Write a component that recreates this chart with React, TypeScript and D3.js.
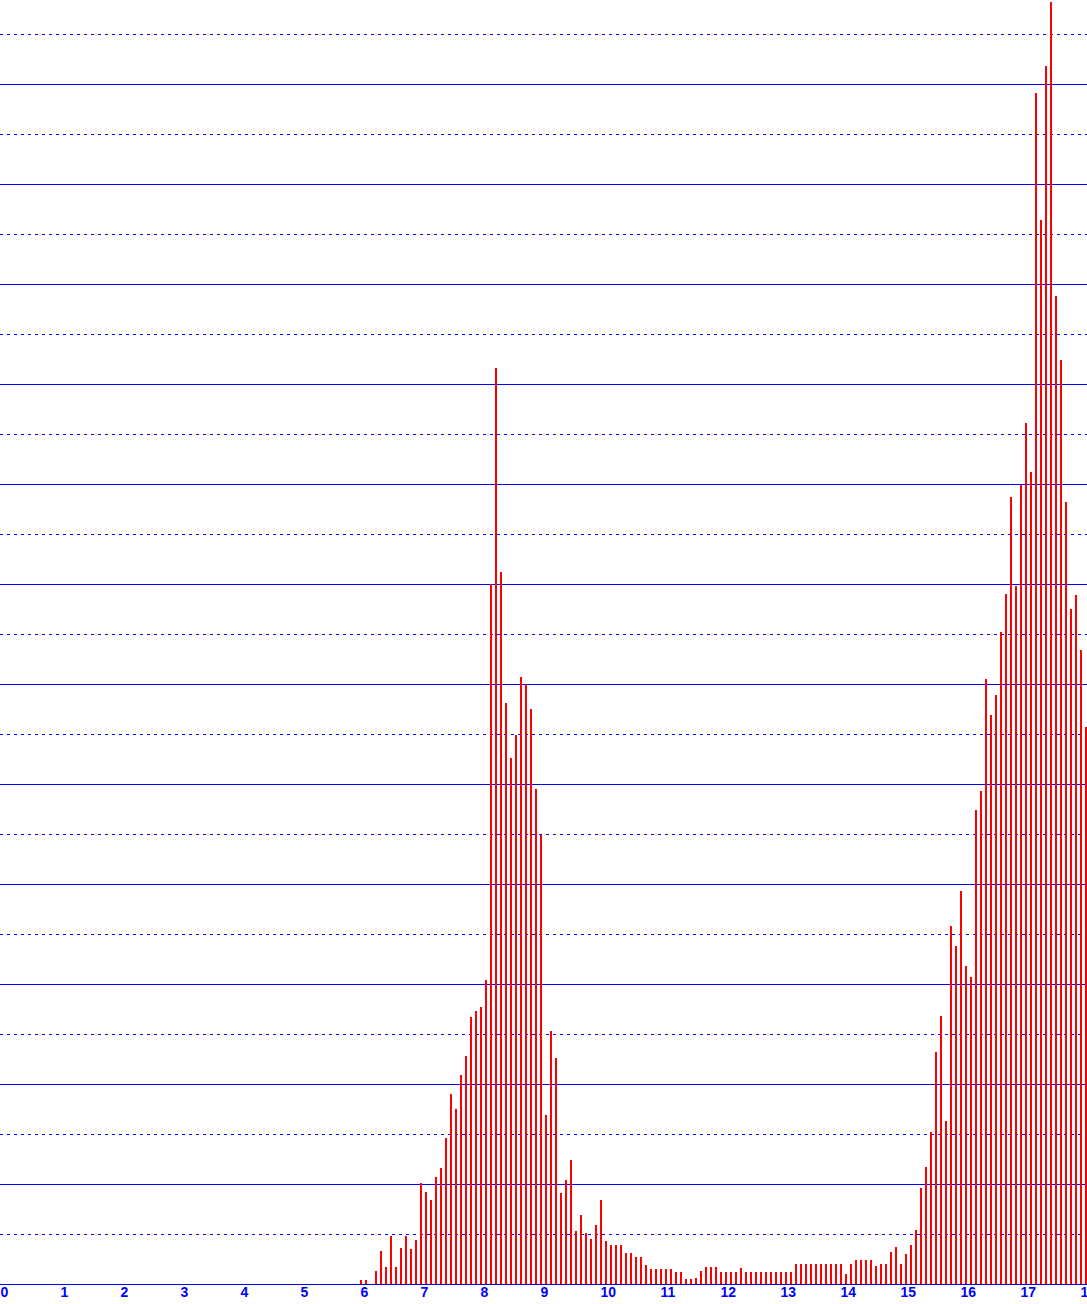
import React, { useEffect, useRef } from 'react';
import * as d3 from 'd3';

// hour axis labels
const hourTicks: number[] = d3.range(0, 19);

// first bar sits at 6:00, one bar every 5 minutes
const startHour = 6;
const barsPerHour = 12;

// bar heights
const counts: number[] = [
    4, 4, 0, 13, 33, 17, 48, 17, 36, 48, 35, 44,
    101, 92, 84, 107, 116, 146, 190, 175, 209, 228, 267, 273,
    277, 304, 700, 916, 712, 581, 526, 549, 607, 600, 575, 495,
    449, 169, 253, 226, 91, 104, 124, 53, 69, 51, 45, 59,
    84, 43, 39, 39, 39, 31, 31, 27, 27, 19, 15, 15,
    15, 15, 15, 12, 12, 5, 5, 6, 13, 17, 17, 17,
    12, 12, 12, 12, 16, 12, 12, 12, 12, 12, 12, 12,
    12, 12, 12, 20, 20, 20, 20, 20, 20, 20, 20, 20,
    20, 10, 20, 24, 24, 24, 24, 18, 20, 20, 32, 37,
    20, 30, 39, 54, 96, 117, 152, 232, 268, 163, 358, 338,
    393, 318, 307, 474, 493, 605, 569, 589, 652, 690, 787, 698,
    799, 861, 812, 1191, 1064, 1218, 1282, 988, 924, 782, 675, 689,
    634, 557
];

const gridStep = 50;
const yMax = 1284;

const BarChart: React.FC = () => {
    const svgRef = useRef<SVGSVGElement | null>(null);

    useEffect(() => {
        const width = 1087;
        const height = 1304;
        const baseline = 1284;

        const svg = d3.select(svgRef.current)
            .attr('width', width)
            .attr('height', height);
        svg.selectAll('*').remove();

        svg.append('rect')
            .attr('width', width)
            .attr('height', height)
            .attr('fill', '#ffffff');

        const x = d3.scaleLinear().domain([0, 18]).range([0, 1080]);
        const y = d3.scaleLinear().domain([0, yMax]).range([baseline, 0]);

        // horizontal grid: solid every 100, dotted in between
        const gridValues = d3.range(0, yMax, gridStep);
        svg.append('g')
            .selectAll('line')
            .data(gridValues)
            .enter()
            .append('line')
            .attr('x1', 0)
            .attr('x2', width)
            .attr('y1', d => y(d) + 0.5)
            .attr('y2', d => y(d) + 0.5)
            .attr('stroke', '#0000ff')
            .attr('stroke-width', 1)
            .attr('shape-rendering', 'crispEdges')
            .attr('stroke-dasharray', d => (d % 100 === 0 ? null : '3,4'));

        // bars
        svg.append('g')
            .selectAll('rect')
            .data(counts)
            .enter()
            .append('rect')
            .attr('x', (_, i) => x(startHour + i / barsPerHour))
            .attr('y', d => y(d))
            .attr('width', 2)
            .attr('height', d => baseline - y(d))
            .attr('fill', '#ff0000')
            .attr('shape-rendering', 'crispEdges');

        // hour labels
        svg.append('g')
            .selectAll('text')
            .data(hourTicks)
            .enter()
            .append('text')
            .attr('x', d => x(d) + 0.5)
            .attr('y', 1297)
            .text(d => String(d))
            .attr('fill', '#0000ff')
            .style('font-family', '"Liberation Sans", Arial, sans-serif')
            .style('font-weight', 'bold')
            .style('font-size', '14px');
    }, []);

    return <svg ref={svgRef} style={{ position: 'absolute', left: 0, top: 0, display: 'block' }}></svg>;
};

export default function App() {
    return <BarChart />;
}
